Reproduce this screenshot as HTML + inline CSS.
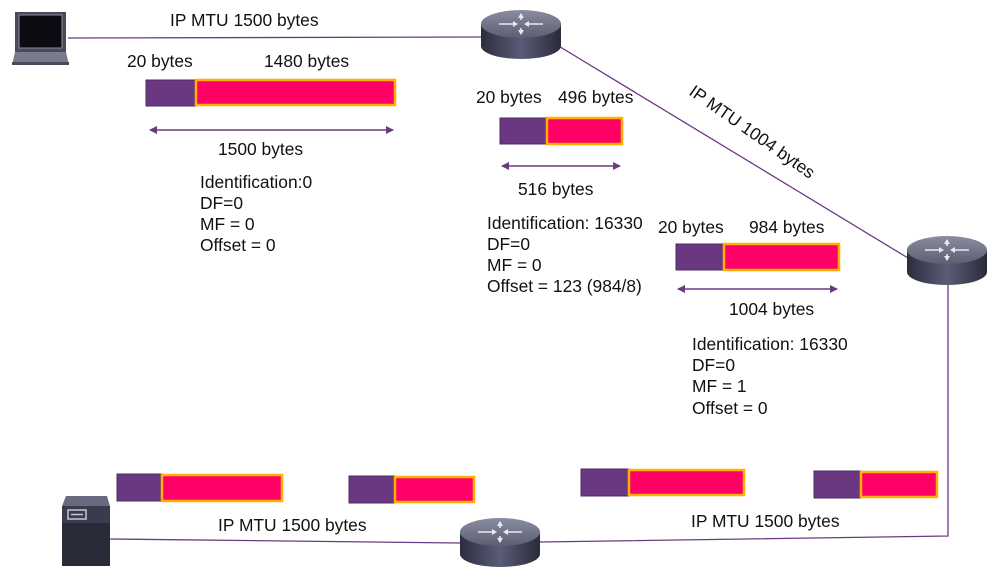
<!DOCTYPE html>
<html><head><meta charset="utf-8"><style>
html,body{margin:0;padding:0;background:#fff;}
svg{display:block;}
text{font-family:"Liberation Sans",Arial,sans-serif;font-size:17.4px;fill:#111;}
</style></head><body>
<svg width="998" height="579" viewBox="0 0 998 579" xmlns="http://www.w3.org/2000/svg">
<defs>
<linearGradient id="rg" x1="0" x2="1" y1="0" y2="0">
<stop offset="0" stop-color="#2c2d3c"/><stop offset="0.5" stop-color="#5a5c78"/><stop offset="1" stop-color="#2a2b38"/>
</linearGradient>
<linearGradient id="rt" x1="0" x2="0" y1="0" y2="1">
<stop offset="0" stop-color="#8a8ca0"/><stop offset="1" stop-color="#5c5e72"/>
</linearGradient>
<marker id="ah" markerWidth="8" markerHeight="8" refX="7" refY="4" orient="auto-start-reverse" markerUnits="userSpaceOnUse">
<path d="M0,0 L8,4 L0,8 z" fill="#6b3a82"/>
</marker>
<g id="router">
<path d="M-40,-8 L-40,14 A40,13 0 0 0 40,14 L40,-8 Z" fill="url(#rg)"/>
<ellipse cx="0" cy="-8" rx="40" ry="14" fill="url(#rt)"/>
<g stroke="#e8e8f0" stroke-width="1.6" fill="none">
<path d="M-22,-8 H-8 M22,-8 H8 M0,-18 V-12 M0,2 V-4"/>
</g>
<g fill="#e8e8f0">
<path d="M-8,-11 L-3,-8 L-8,-5z M8,-11 L3,-8 L8,-5z M-3,-14 L0,-19 L3,-14z M-3,-2 L0,3 L3,-2z"/>
</g>
</g>
</defs>

<g stroke="#6b3a82" stroke-width="1.3" fill="none">
<line x1="68" y1="38" x2="485" y2="37"/>
<line x1="557" y1="45" x2="908" y2="258"/>
<polyline points="948,285 948,536 540,542"/>
<line x1="460" y1="543" x2="110" y2="539"/>
</g>

<rect x="15" y="12" width="51" height="40" fill="#4a4b5a"/>
<rect x="19" y="15" width="43" height="33" fill="#0c0c12" stroke="#8a8b9a" stroke-width="1"/>
<path d="M15,52 L66,52 L69,65 L12,65 Z" fill="#7a7b8c"/>
<rect x="12" y="62" width="57" height="3" fill="#4a4b5a"/>

<path d="M62,506 L66,496 L107,496 L110,506 Z" fill="#6a6b80"/>
<rect x="62" y="506" width="48" height="60" fill="#2a2b38"/>
<rect x="62" y="506" width="48" height="17" fill="#3a3b4c"/>
<rect x="68" y="510" width="18" height="9" fill="none" stroke="#c8c8d0" stroke-width="1.5"/>
<line x1="71" y1="514.5" x2="83" y2="514.5" stroke="#c8c8d0" stroke-width="1.5"/>

<use href="#router" x="521" y="32"/>
<use href="#router" x="947" y="258"/>
<use href="#router" x="500" y="540"/>

<text x="170" y="26">IP MTU 1500 bytes</text>
<text x="0" y="0" transform="translate(688,94) rotate(35)">IP MTU 1004 bytes</text>
<text x="218" y="531">IP MTU 1500 bytes</text>
<text x="691" y="527">IP MTU 1500 bytes</text>

<text x="127" y="67">20 bytes</text><text x="264" y="67">1480 bytes</text>
<rect x="146" y="80" width="50" height="26" fill="#6a3880" stroke="#4e2a60" stroke-width="1"/>
<rect x="196" y="80" width="199" height="25" fill="#ff0066" stroke="#ffb000" stroke-width="2.5"/>
<line x1="150" y1="130" x2="393" y2="130" stroke="#6b3a82" stroke-width="1.5" marker-start="url(#ah)" marker-end="url(#ah)"/>
<text x="218" y="155">1500 bytes</text>
<text x="200" y="188">Identification:0</text>
<text x="200" y="209">DF=0</text>
<text x="200" y="230">MF = 0</text>
<text x="200" y="251">Offset = 0</text>

<text x="476" y="103">20 bytes</text><text x="558" y="103">496 bytes</text>
<rect x="500" y="118" width="47" height="26" fill="#6a3880" stroke="#4e2a60" stroke-width="1"/>
<rect x="547" y="118" width="75" height="26" fill="#ff0066" stroke="#ffb000" stroke-width="2.5"/>
<line x1="502" y1="166" x2="620" y2="166" stroke="#6b3a82" stroke-width="1.5" marker-start="url(#ah)" marker-end="url(#ah)"/>
<text x="518" y="195">516 bytes</text>
<text x="487" y="229">Identification: 16330</text>
<text x="487" y="250">DF=0</text>
<text x="487" y="271">MF = 0</text>
<text x="487" y="292">Offset = 123 (984/8)</text>

<text x="658" y="233">20 bytes</text><text x="749" y="233">984 bytes</text>
<rect x="676" y="244" width="48" height="26" fill="#6a3880" stroke="#4e2a60" stroke-width="1"/>
<rect x="724" y="244" width="115" height="26" fill="#ff0066" stroke="#ffb000" stroke-width="2.5"/>
<line x1="678" y1="289" x2="837" y2="289" stroke="#6b3a82" stroke-width="1.5" marker-start="url(#ah)" marker-end="url(#ah)"/>
<text x="729" y="315">1004 bytes</text>
<text x="692" y="350">Identification: 16330</text>
<text x="692" y="371">DF=0</text>
<text x="692" y="392">MF = 1</text>
<text x="692" y="414">Offset = 0</text>

<rect x="117" y="474" width="45" height="27" fill="#6a3880" stroke="#4e2a60" stroke-width="1"/>
<rect x="162" y="475" width="120" height="26" fill="#ff0066" stroke="#ffb000" stroke-width="2.5"/>
<rect x="349" y="476" width="46" height="27" fill="#6a3880" stroke="#4e2a60" stroke-width="1"/>
<rect x="395" y="477" width="79" height="25" fill="#ff0066" stroke="#ffb000" stroke-width="2.5"/>
<rect x="581" y="469" width="48" height="27" fill="#6a3880" stroke="#4e2a60" stroke-width="1"/>
<rect x="629" y="470" width="115" height="25" fill="#ff0066" stroke="#ffb000" stroke-width="2.5"/>
<rect x="814" y="471" width="47" height="27" fill="#6a3880" stroke="#4e2a60" stroke-width="1"/>
<rect x="861" y="472" width="76" height="25" fill="#ff0066" stroke="#ffb000" stroke-width="2.5"/>
</svg>
</body></html>
